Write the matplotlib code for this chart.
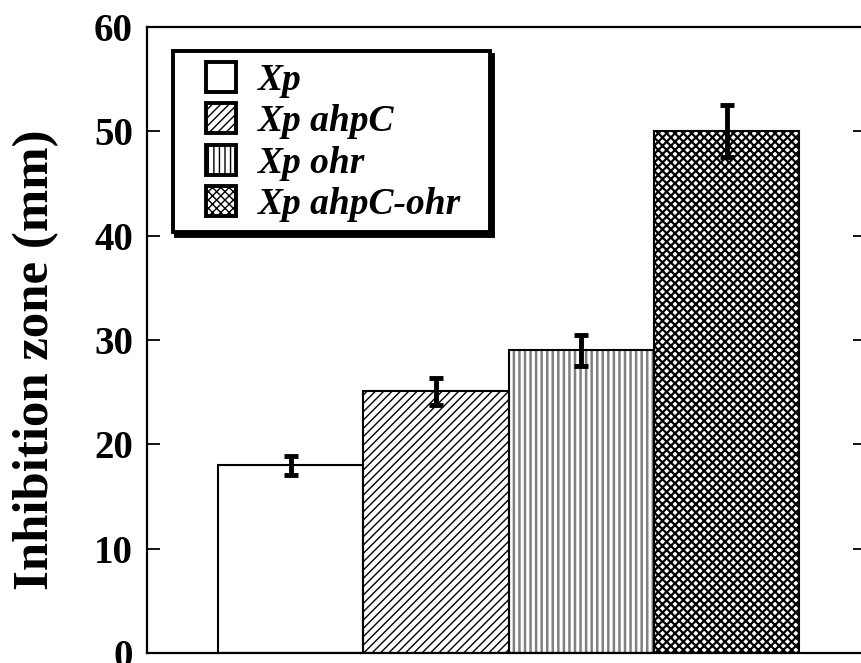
import matplotlib
matplotlib.use("Agg")
import matplotlib.pyplot as plt
from matplotlib.patches import Patch, Rectangle
from matplotlib.legend_handler import HandlerPatch
import numpy as np

# values
strains = ["Xp", "Xp ahpC", "Xp ohr", "Xp ahpC-ohr"]
zone_mm = [18.0, 25.1, 29.0, 50.0]
zone_err = [0.9, 1.3, 1.5, 2.5]
y_ticks = [0, 10, 20, 30, 40, 50, 60]

hatches = [None, "////", "|||", "xxxx"]
hatch_colors = ["black", "black", "#808080", "black"]
hatch_widths = [1.0, 1.0, 1.8, 1.6]

plt.rcParams["font.family"] = ["Liberation Serif", "DejaVu Serif"]
plt.rcParams["font.weight"] = "bold"
plt.rcParams["hatch.linewidth"] = 1.0

fig = plt.figure(figsize=(8.62, 6.63), dpi=100)
W, H = 862, 663
ax = fig.add_axes([147 / W, 10 / H, (866 - 147) / W, 626 / H])

x = np.arange(len(strains))
for i in range(len(strains)):
    # hatch drawn in its own colour, then a black outline on top
    bars = ax.bar(x[i], zone_mm[i], width=1.0, color="white",
                  edgecolor=hatch_colors[i], hatch=hatches[i], linewidth=0, zorder=2)
    for b in bars:
        try:
            b.set_hatch_linewidth(hatch_widths[i])
        except AttributeError:
            pass
    ax.bar(x[i], zone_mm[i], width=1.0, fill=False,
           edgecolor="black", linewidth=1.5, zorder=3)

ax.errorbar(x, zone_mm, yerr=zone_err, fmt="none", ecolor="black",
            elinewidth=3.5, capsize=4.7, capthick=3.5, zorder=4)

ax.set_xlim(-0.99, 3.96)
ax.set_ylim(0, 60)
ax.set_yticks(y_ticks)
ax.set_yticklabels([str(v) for v in y_ticks], fontsize=28, fontweight="bold")
ax.set_xticks([])
ax.tick_params(axis="y", direction="in", length=9.5, width=1.3,
               right=True, left=True, pad=10)
for s in ax.spines.values():
    s.set_linewidth(1.6)

ax.set_ylabel("Inhibition zone (mm)", fontsize=36.5, fontweight="bold")
ax.yaxis.set_label_coords(-0.122, 0.468)


def square_at_right(legend, orig_handle, xdescent, ydescent, width, height, fontsize):
    # square handle pushed to the right end of the handle box
    return Rectangle((-xdescent + width - height, -ydescent), height, height)


handles = []
for i, name in enumerate(strains):
    handles.append(Patch(facecolor="white", edgecolor="black", hatch=hatches[i],
                         linewidth=2.8, label=name + "  "))
leg = ax.legend(handles=handles, loc="upper left", bbox_to_anchor=(0.036, 0.961),
                borderaxespad=0, frameon=True, fancybox=False,
                shadow={"facecolor": "black", "edgecolor": "black", "alpha": 1,
                        "ox": 2.3, "oy": -2.3},
                prop={"family": "Liberation Serif", "weight": "bold",
                      "style": "italic", "size": 27},
                handler_map={Patch: HandlerPatch(patch_func=square_at_right)},
                handlelength=1.4, handleheight=0.86, handletextpad=0.58,
                labelspacing=0.14, borderpad=0.28)
leg.get_frame().set_edgecolor("black")
leg.get_frame().set_linewidth(2.8)
leg.set_zorder(5)

fig.savefig("out.png", dpi=100)
